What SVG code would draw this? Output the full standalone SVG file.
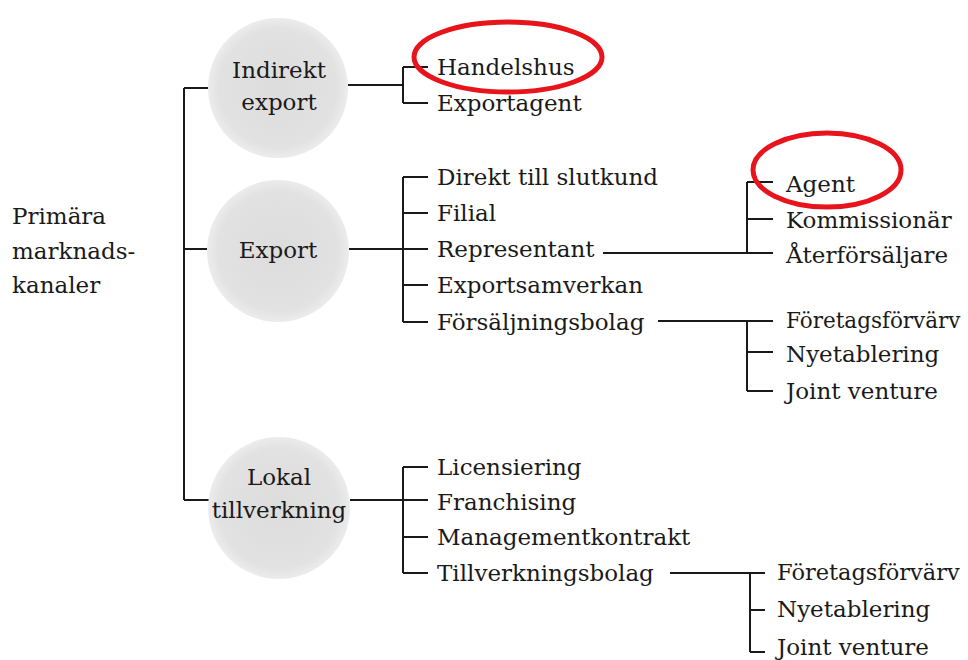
<svg xmlns="http://www.w3.org/2000/svg" width="968" height="660" viewBox="0 0 968 660">
<defs>
<radialGradient id="g" cx="50%" cy="50%" r="50%">
<stop offset="0%" stop-color="#dcdcdc"/>
<stop offset="85%" stop-color="#e2e2e2"/>
<stop offset="100%" stop-color="#ececec"/>
</radialGradient>
</defs>
<style>
text{font-family:"DejaVu Serif","Liberation Serif",serif;font-size:23px;fill:#1a1a1a}
.c{text-anchor:middle}
.ln{stroke:#1a1a1a;stroke-width:2;fill:none}
.circ{fill:url(#g)}
.hl{fill:none;stroke:#e8141c;stroke-width:5}
</style>
<rect width="968" height="660" fill="#ffffff"/>
<g id="connectors" class="ln">
<path d="M184 88V500M184 88H208M184 249H207M184 500H209"/>
<path d="M348 85H403M403 67V103M403 67H428M403 103H428"/>
<path d="M349 249H428M403 177V322M403 177H428M403 213H428M403 285H428M403 322H428"/>
<path d="M350 500H428M403 467V573M403 467H428M403 537H428M403 573H428"/>
<path d="M603 253H773M747 182V253M747 182H773M747 219H773"/>
<path d="M658 321H773M747 321V391M747 352H773M747 391H773"/>
<path d="M670 573H765M750 573V652M750 610H765M750 652H765"/>
</g>
<g id="root"><text x="12" y="224">Primära</text><text x="12" y="259">marknads-</text><text x="12" y="293">kanaler</text></g>
<g id="indirekt"><circle class="circ" cx="278" cy="88" r="70"/><text class="c" x="279" y="78">Indirekt</text><text class="c" x="279" y="110">export</text></g>
<g id="export"><circle class="circ" cx="278" cy="251" r="71"/><text class="c" x="278" y="258">Export</text></g>
<g id="lokal"><circle class="circ" cx="279" cy="508" r="71"/><text class="c" x="279" y="485">Lokal</text><text class="c" x="279" y="518">tillverkning</text></g>
<g id="handelshus"><text x="437" y="75">Handelshus</text></g>
<g id="exportagent"><text x="437" y="111">Exportagent</text></g>
<g id="direkt"><text x="437" y="185">Direkt till slutkund</text></g>
<g id="filial"><text x="437" y="221">Filial</text></g>
<g id="representant"><text x="437" y="257">Representant</text></g>
<g id="exportsamverkan"><text x="437" y="293">Exportsamverkan</text></g>
<g id="forsaljningsbolag"><text x="437" y="330">Försäljningsbolag</text></g>
<g id="agent"><text x="786" y="192">Agent</text></g>
<g id="kommissionar"><text x="786" y="228">Kommissionär</text></g>
<g id="aterforsaljare"><text x="786" y="263">Återförsäljare</text></g>
<g id="foretagsforvarv1"><text x="786" y="328" style="font-size:21.5px">Företagsförvärv</text></g>
<g id="nyetablering1"><text x="786" y="362">Nyetablering</text></g>
<g id="joint1"><text x="786" y="399">Joint venture</text></g>
<g id="licensiering"><text x="437" y="475">Licensiering</text></g>
<g id="franchising"><text x="437" y="510">Franchising</text></g>
<g id="management"><text x="437" y="545">Managementkontrakt</text></g>
<g id="tillverkningsbolag"><text x="437" y="581">Tillverkningsbolag</text></g>
<g id="foretagsforvarv2"><text x="777" y="580" style="font-size:22.5px">Företagsförvärv</text></g>
<g id="nyetablering2"><text x="777" y="617">Nyetablering</text></g>
<g id="joint2"><text x="777" y="655">Joint venture</text></g>
<g id="highlights"><ellipse class="hl" cx="508" cy="57" rx="94" ry="35"/><ellipse class="hl" cx="827" cy="170" rx="74" ry="37"/></g>
</svg>
